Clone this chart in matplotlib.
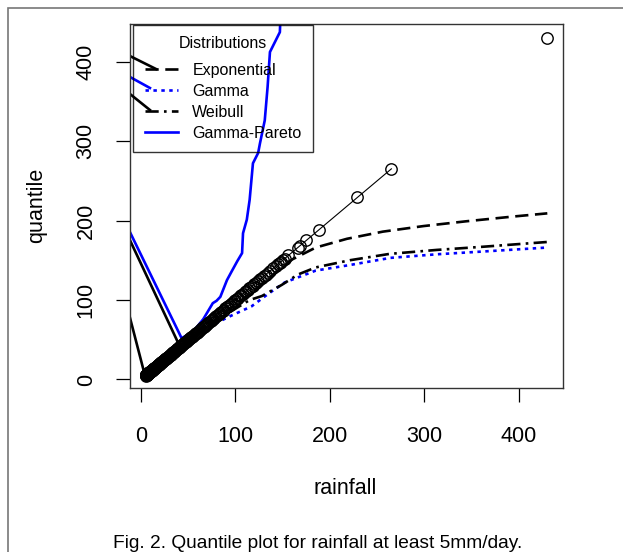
import matplotlib
matplotlib.use("Agg")
import matplotlib.pyplot as plt
from matplotlib.lines import Line2D
from matplotlib.patches import Rectangle

plt.rcParams['font.family'] = ['Liberation Sans', 'DejaVu Sans']

# sorted rainfall (mm/day), days with at least 5mm
rainfall = [5.0, 5.1, 5.2, 5.3, 5.4, 5.5, 5.6, 5.7, 5.8, 5.9, 6.0, 6.1, 6.2, 6.4, 6.5,
            6.6, 6.8, 7.0, 7.1, 7.3, 7.5, 7.6, 7.8, 8.0, 8.2, 8.4, 8.6, 8.8, 9.0, 9.2,
            9.4, 9.6, 9.9, 10.1, 10.4, 10.6, 10.9, 11.2, 11.5, 11.8, 12.1, 12.4, 12.7,
            13.0, 13.3, 13.6, 14.0, 14.3, 14.7, 15.0, 15.4, 15.8, 16.2, 16.6, 17.0,
            17.4, 17.8, 18.2, 18.6, 19.0, 19.5, 20.0, 20.5, 21.0, 21.5, 22.0, 22.5,
            23.0, 23.5, 24.0, 24.6, 25.2, 25.8, 26.4, 27.0, 27.6, 28.2, 28.8, 29.4,
            30.0, 30.7, 31.4, 32.1, 32.8, 33.5, 34.2, 34.9, 35.6, 36.3, 37.0, 37.8,
            38.6, 39.4, 40.2, 41.0, 41.8, 42.6, 43.4, 44.2, 45.0, 45.9, 46.8, 47.7,
            48.6, 49.5, 50.4, 51.3, 52.2, 53.1, 54.0, 55.0, 56.0, 57.0, 58.0, 59.0,
            60.0, 61.1, 62.2, 63.3, 64.4, 65.5, 66.6, 67.7, 68.8, 70.0, 71.2, 72.4,
            73.6, 74.8, 76.0, 77.3, 78.6, 79.9, 81.2, 82.5, 83.8, 85.2, 86.6, 88.0,
            89.4, 90.8, 92.3, 93.8, 95.3, 96.8, 98.3, 99.9, 101.5, 103.1, 104.7,
            106.3, 108.0, 109.7, 111.4, 113.1, 114.8, 116.5, 118.2, 120, 122, 124,
            126, 128, 130, 132, 134, 137, 140, 143, 145, 147, 148, 150, 152, 156,
            166, 168, 175, 188, 229, 265]
rain_max = 430

# fitted quantiles at sorted rainfall
exp_x = [5, 30, 60, 90, 120, 140, 160, 185, 218, 256, 299, 344, 394, 430]
exp_q = [5, 29, 57, 85, 112, 132, 151, 166, 177, 186, 193, 199, 205, 209]
gam_x = [5, 40, 62, 78, 95, 117, 135, 152, 185, 221, 264, 313, 362, 430]
gam_q = [5, 39, 58, 70, 80, 92, 108, 122, 137, 144, 153, 157.5, 161, 166]
wei_x = [5, 40, 65, 89, 115, 128, 149, 166, 185, 221, 263, 313, 362, 430]
wei_q = [5, 39, 61, 81, 100, 105, 119, 132, 141, 150, 158, 163, 167, 173]
gp_x = [-25, 43, 55, 66, 72, 76, 80, 84, 88, 91, 96, 102, 107, 108, 112, 115,
        118.5, 124, 126, 131, 134, 136.5, 147, 148]
gp_q = [218, 52, 60, 76, 88, 96, 99, 104, 116, 125, 136, 149, 159, 184, 201, 226,
        272, 285, 297.5, 326, 368, 412, 437, 470]

# stray segments coming in from the left edge
stray_a_x, stray_a_y = [-25, 39], [209, 47]
stray_b_x, stray_b_y = [-25, 4], [139, 6]
leg_exp_x, leg_exp_y = [-25, 15.9], [414.8, 390.6]
leg_gam_x, leg_gam_y = [-25, 9.5], [389.3, 366.7]
leg_wei_x, leg_wei_y = [-25, 9.5], [371.9, 339]

W, H = 623, 552
fig = plt.figure(figsize=(W / 100, H / 100), dpi=100)
ax = fig.add_axes([130 / W, 1 - 388 / H, 433 / W, 364 / H])

ax.plot(rainfall, rainfall, color='black', lw=0.8, zorder=3)
ax.plot(rainfall + [rain_max], rainfall + [rain_max], ls='none', marker='o',
        ms=8.2, mfc='none', mec='black', mew=1.0, zorder=3)

lw = 1.9
ax.plot(exp_x, exp_q, color='black', lw=lw, dashes=(5, 2.5))
ax.plot(gam_x, gam_q, color='blue', lw=lw, dashes=(1.3, 1.7))
ax.plot(wei_x, wei_q, color='black', lw=lw, dashes=(5, 2, 1, 2))
ax.plot(gp_x, gp_q, color='blue', lw=lw)

ax.plot(stray_a_x, stray_a_y, color='black', lw=lw)
ax.plot(stray_b_x, stray_b_y, color='black', lw=lw)
ax.plot(leg_exp_x, leg_exp_y, color='black', lw=lw)
ax.plot(leg_gam_x, leg_gam_y, color='blue', lw=lw)
ax.plot(leg_wei_x, leg_wei_y, color='black', lw=lw)

ax.set_xlim(-11.6, 446.6)
ax.set_ylim(-10.7, 447.2)
ax.set_xticks([0, 100, 200, 300, 400])
ax.set_yticks([0, 100, 200, 300, 400])
ax.tick_params(axis='both', length=10, width=0.9, labelsize=15.5, colors='black')
ax.tick_params(axis='x', pad=17)
ax.tick_params(axis='y', pad=14)
for lab in ax.get_yticklabels():
    lab.set_rotation(90)
    lab.set_va('center')
for s in ax.spines.values():
    s.set_linewidth(1.0)
    s.set_color('#333333')

ax.text((345 - 130) / 433, (388 - 488) / 364, 'rainfall', transform=ax.transAxes,
        ha='center', va='center', fontsize=15.5)
ax.text((37 - 130) / 433, (388 - 205) / 364, 'quantile', transform=ax.transAxes,
        ha='center', va='center', fontsize=15.5, rotation=90)

handles = [Line2D([], [], color='black', lw=lw, dashes=(5, 2.5)),
           Line2D([], [], color='blue', lw=lw, dashes=(1.3, 1.7)),
           Line2D([], [], color='black', lw=lw, dashes=(5, 2, 1, 2)),
           Line2D([], [], color='blue', lw=lw)]
labels = ['Exponential', 'Gamma', 'Weibull', 'Gamma-Pareto']
leg = fig.legend(handles, labels, title='Distributions', loc='upper left',
                 bbox_to_anchor=(133 / W, 1 - 25 / H), fontsize=11.5,
                 title_fontsize=11.5, frameon=True, fancybox=False,
                 borderpad=0.72, labelspacing=0.38, handlelength=2.1,
                 handletextpad=0.9, borderaxespad=0)
leg._legend_box.sep = 8.1
leg.get_frame().set_facecolor('none')
leg.get_frame().set_edgecolor('black')
leg.get_frame().set_linewidth(1.0)

fig.text(318 / W, 1 - 543 / H, 'Fig. 2. Quantile plot for rainfall at least 5mm/day.',
         ha='center', va='center', fontsize=13.8)

fig.add_artist(Rectangle((8 / W, -0.1), 2, 1.1 - 8 / H, transform=fig.transFigure,
                         fill=False, ec='#777777', lw=1.2))

fig.savefig('out.png', dpi=100)
